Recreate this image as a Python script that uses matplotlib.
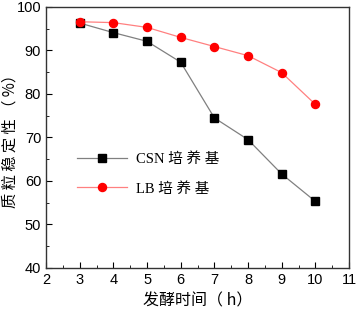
import numpy as np
import matplotlib.pyplot as plt
from matplotlib.ticker import MultipleLocator

hours = [3, 4, 5, 6, 7, 8, 9, 10]
csn = [96.3, 94.1, 92.1, 87.3, 74.5, 69.5, 61.6, 55.3]
lb = [96.6, 96.4, 95.3, 93.0, 90.9, 88.8, 84.9, 77.6]

plt.rcParams['font.family'] = ['Liberation Sans', 'Noto Sans CJK SC']
cjk = ['Noto Sans CJK SC', 'Liberation Serif']
leg_font = ['Liberation Serif', 'Noto Sans CJK SC']

fig = plt.figure(figsize=(3.58, 3.16), dpi=100)
ax = fig.add_axes([0.1285, 0.152, 0.8465, 0.826])

ax.plot(hours, csn, color='#808080', lw=0.9, marker='s', ms=5.2,
        mfc='black', mec='black', label='CSN 培 养 基')
ax.plot(hours, lb, color='#ff8080', lw=0.9, marker='o', ms=5.8,
        mfc='red', mec='red', label='LB 培 养 基')

ax.set_xlim(2, 11)
ax.set_ylim(40, 100)
ax.xaxis.set_major_locator(MultipleLocator(1))
ax.xaxis.set_minor_locator(MultipleLocator(0.5))
ax.yaxis.set_major_locator(MultipleLocator(10))
ax.yaxis.set_minor_locator(MultipleLocator(5))
ax.tick_params(which='both', direction='in', labelsize=10.5)
ax.tick_params(which='major', length=4)
ax.tick_params(which='minor', length=2.5)
for s in ax.spines.values():
    s.set_linewidth(1.0)
    s.set_color('#333333')

ax.set_xlabel('发酵时间（ h）', family=cjk, fontsize=11.5, labelpad=4)
ax.set_ylabel('质 粒 稳 定 性 （ %）', family=cjk, fontsize=11)
ax.yaxis.set_label_coords(-0.09, 0.5)

ax.legend(loc='upper left', bbox_to_anchor=(0.06, 0.495), frameon=False,
          prop={'family': leg_font, 'size': 10.5}, handlelength=3.4,
          labelspacing=1.1, handletextpad=0.6)

fig.savefig('out.png', dpi=100)
